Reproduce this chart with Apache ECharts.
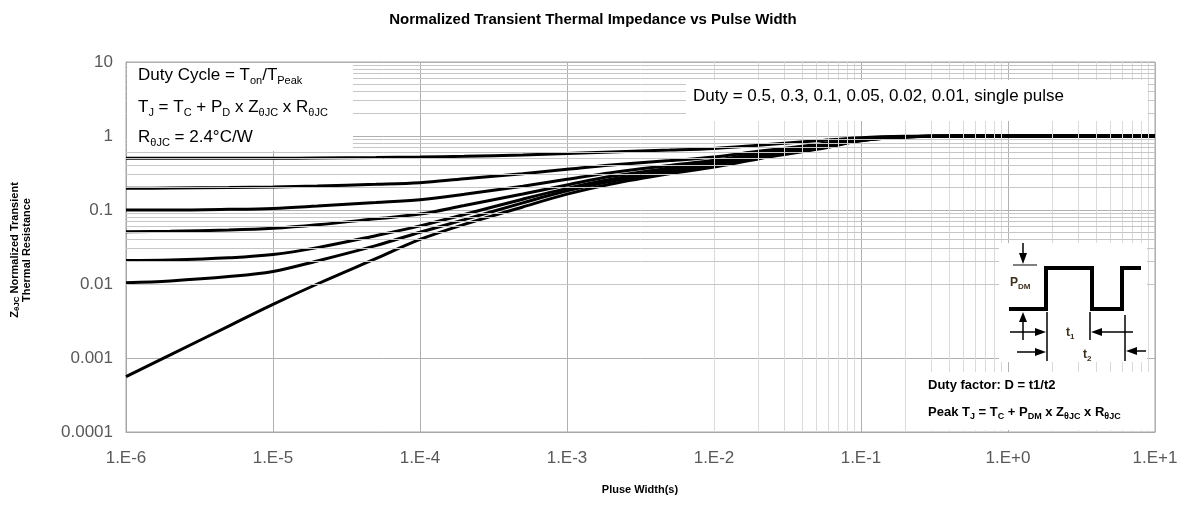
<!DOCTYPE html>
<html>
<head>
<meta charset="utf-8">
<title>Normalized Transient Thermal Impedance vs Pulse Width</title>
<script src="https://cdn.jsdelivr.net/npm/echarts@6/dist/echarts.min.js"></script>
<style>
  html, body { margin: 0; padding: 0; background: #fff; }
  #chart { width: 1186px; height: 508px; }
</style>
</head>
<body>
<div id="chart"></div>
<script>
const pulseWidth = [1e-6, 2e-6, 5e-6, 1e-5, 2e-5, 5e-5, 1e-4, 2e-4, 5e-4, 1e-3,
                    2e-3, 5e-3, 1e-2, 2e-2, 5e-2, 1e-1, 2e-1, 5e-1, 1, 10];

// normalized Zth for each duty cycle
const zD05    = [0.5,     0.5,    0.5,    0.5,    0.505,  0.512, 0.52,  0.532, 0.555, 0.58,
                 0.61,    0.645,  0.68,   0.75,   0.86,   0.95,  0.99,  1.0,   1.0,   1.0];
const zD03    = [0.196,   0.198,  0.201,  0.205,  0.211,  0.222, 0.234, 0.265, 0.31,  0.355,
                 0.405,   0.465,  0.52,   0.62,   0.77,   0.92,  0.98,  1.0,   1.0,   1.0];
const zD01    = [0.1,     0.1,    0.102,  0.105,  0.113,  0.126, 0.138, 0.163, 0.21,  0.26,
                 0.32,    0.4,    0.47,   0.58,   0.74,   0.9,   0.98,  1.0,   1.0,   1.0];
const zD005   = [0.051,   0.0515, 0.0535, 0.0565, 0.063,  0.076, 0.088, 0.115, 0.165, 0.218,
                 0.285,   0.37,   0.45,   0.56,   0.72,   0.89,  0.975, 1.0,   1.0,   1.0];
const zD002   = [0.0207,  0.0211, 0.0226, 0.025,  0.031,  0.045, 0.061, 0.087, 0.14,  0.196,
                 0.26,    0.345,  0.43,   0.54,   0.7,    0.88,  0.975, 1.0,   1.0,   1.0];
const zD001   = [0.0104,  0.011,  0.0126, 0.0148, 0.0205, 0.033, 0.05,  0.074, 0.125, 0.182,
                 0.245,   0.33,   0.41,   0.52,   0.68,   0.87,  0.97,  1.0,   1.0,   1.0];
const zSingle = [0.00056, 0.0011, 0.0027, 0.0053, 0.01,   0.022, 0.04,  0.064, 0.11,  0.164,
                 0.225,   0.31,   0.38,   0.49,   0.66,   0.86,  0.97,  1.0,   1.0,   1.0];

const curveNames = ['D=0.5', 'D=0.3', 'D=0.1', 'D=0.05', 'D=0.02', 'D=0.01', 'single pulse'];
const curves = [zD05, zD03, zD01, zD005, zD002, zD001, zSingle];

// tick labels
const xTickLabels = ['1.E-6', '1.E-5', '1.E-4', '1.E-3', '1.E-2', '1.E-1', '1.E+0', '1.E+1'];
const yTickLabels = ['0.0001', '0.001', '0.01', '0.1', '1', '10'];

const FONT = 'Liberation Sans, Arial, sans-serif';

// log minor grid (2..9 in every decade)
const minorX = [];
for (let e = -6; e <= 0; e++) for (let k = 2; k <= 9; k++) minorX.push(k * Math.pow(10, e));
const minorY = [];
for (let e = -4; e <= 0; e++) for (let k = 2; k <= 9; k++) minorY.push(k * Math.pow(10, e));

function gridLines(list, key, color) {
  return {
    type: 'line', data: [], z: 1, silent: true,
    markLine: {
      silent: true, symbol: ['none', 'none'], animation: false,
      label: { show: false },
      lineStyle: { color: color, width: 1, type: 'solid' },
      data: list.map(v => ({ [key]: v }))
    }
  };
}

let series = [
  gridLines(minorX, 'xAxis', '#dadada'),
  gridLines(minorY, 'yAxis', '#c6c6c6')
];
curves.forEach((c, i) => {
  series.push({
    name: curveNames[i],
    type: 'line',
    data: pulseWidth.map((x, j) => [x, c[j]]),
    showSymbol: false,
    smooth: 0.35,
    z: 3,
    lineStyle: { color: '#000', width: 3 }
  });
});

// rich text styles
const big = {
  n: { fontSize: 17, fontFamily: FONT, fill: '#000', lineHeight: 22, verticalAlign: 'middle' },
  s: { fontSize: 11, fontFamily: FONT, fill: '#000', lineHeight: 11, verticalAlign: 'bottom' }
};
const boldSm = {
  n: { fontSize: 13, fontFamily: FONT, fontWeight: 'bold', fill: '#000', lineHeight: 18, verticalAlign: 'middle' },
  s: { fontSize: 9, fontFamily: FONT, fontWeight: 'bold', fill: '#000', lineHeight: 9, verticalAlign: 'bottom' }
};
const diag = {
  n: { fontSize: 12, fontFamily: FONT, fontWeight: 'bold', fill: '#3b2e1c', lineHeight: 16, verticalAlign: 'middle' },
  s: { fontSize: 8, fontFamily: FONT, fontWeight: 'bold', fill: '#3b2e1c', lineHeight: 8, verticalAlign: 'bottom' }
};

function txt(x, y, text, rich, align) {
  return { type: 'text', x: x, y: y, z: 20,
    style: { text: text, rich: rich, align: align || 'left', verticalAlign: 'middle' } };
}
function ln(x1, y1, x2, y2, w) {
  return { type: 'line', z: 20, shape: { x1: x1, y1: y1, x2: x2, y2: y2 }, style: { stroke: '#000', lineWidth: w || 1.5 } };
}
function head(points) {
  return { type: 'polygon', z: 20, shape: { points: points }, style: { fill: '#000' } };
}

const graphic = [
  // formula box top-left
  { type: 'rect', z: 15, shape: { x: 127, y: 63, width: 226, height: 88 }, style: { fill: '#fff' } },
  txt(138, 75, '{n|Duty Cycle = T}{s|on}{n|/T}{s|Peak}', big),
  txt(138, 107, '{n|T}{s|J}{n| = T}{s|C}{n| + P}{s|D}{n| x Z}{s|θJC}{n| x R}{s|θJC}', big),
  txt(138, 137, '{n|R}{s|θJC}{n| = 2.4°C/W}', big),
  // duty list box
  { type: 'rect', z: 15, shape: { x: 686, y: 80, width: 462, height: 41 }, style: { fill: '#fff' } },
  txt(693, 96, '{n|Duty = 0.5, 0.3, 0.1, 0.05, 0.02, 0.01, single pulse}', big),
  // pulse diagram box
  { type: 'rect', z: 15, shape: { x: 999, y: 243, width: 148, height: 119 }, style: { fill: '#fff' } },
  { type: 'polyline', z: 20,
    shape: { points: [[1009, 309], [1046, 309], [1046, 268], [1092, 268], [1092, 309], [1122, 309], [1122, 268], [1141, 268]] },
    style: { stroke: '#000', lineWidth: 4, fill: null } },
  ln(1023, 243, 1023, 258), head([[1019, 253], [1027, 253], [1023, 264]]),
  ln(1013, 265, 1037, 265, 1),
  ln(1023, 318, 1023, 340), head([[1019, 322], [1027, 322], [1023, 312]]),
  ln(1010, 332, 1040, 332), head([[1035, 328], [1035, 336], [1046, 332]]),
  ln(1047, 312, 1047, 361),
  ln(1133, 332, 1097, 332), head([[1102, 328], [1102, 336], [1091, 332]]),
  ln(1090, 312, 1090, 340),
  ln(1017, 352, 1040, 352), head([[1035, 348], [1035, 356], [1046, 352]]),
  ln(1125, 315, 1125, 361),
  ln(1146, 351, 1132, 351), head([[1137, 347], [1137, 355], [1126, 351]]),
  txt(1010, 283, '{n|P}{s|DM}', diag),
  txt(1066, 333, '{n|t}{s|1}', diag),
  txt(1083, 355, '{n|t}{s|2}', diag),
  // duty factor box
  { type: 'rect', z: 15, shape: { x: 923, y: 372, width: 229, height: 58 }, style: { fill: '#fff' } },
  txt(928, 385, '{n|Duty factor: D = t1/t2}', boldSm),
  txt(928, 412, '{n|Peak T}{s|J}{n| = T}{s|C}{n| + P}{s|DM}{n| x Z}{s|θJC}{n| x R}{s|θJC}', boldSm),
  // axis names
  txt(640, 490, '{n|Pluse Width(s)}', {
    n: { fontSize: 11, fontFamily: FONT, fontWeight: 'bold', fill: '#000' } }, 'center'),
  { type: 'text', x: 21, y: 250, rotation: Math.PI / 2, z: 20,
    style: {
      text: '{n|Z}{s|θJC}{n| Normalized Transient}\n{n|Thermal Resistance}',
      align: 'center', verticalAlign: 'middle',
      rich: {
        n: { fontSize: 11, fontFamily: FONT, fontWeight: 'bold', fill: '#000', lineHeight: 12, verticalAlign: 'middle', align: 'center' },
        s: { fontSize: 8, fontFamily: FONT, fontWeight: 'bold', fill: '#000', lineHeight: 8, verticalAlign: 'bottom', align: 'center' }
      }
    } }
];

const option = {
  animation: false,
  backgroundColor: '#fff',
  title: {
    text: 'Normalized Transient Thermal Impedance vs Pulse Width',
    left: 'center', top: 7,
    textStyle: { fontSize: 15, fontWeight: 'bold', color: '#000', fontFamily: FONT }
  },
  grid: { left: 126, right: 31, top: 62, bottom: 76, show: true, borderColor: '#a6a6a6', borderWidth: 1 },
  xAxis: {
    type: 'log', logBase: 10, min: 1e-6, max: 10, interval: 1,
    axisLine: { lineStyle: { color: '#a6a6a6' } },
    axisTick: { show: false },
    splitLine: { show: true, lineStyle: { color: '#b0b0b0', width: 1 } },
    axisLabel: {
      color: '#595959', fontSize: 17, fontFamily: FONT, margin: 18,
      formatter: v => xTickLabels[Math.round(Math.log10(v)) + 6]
    }
  },
  yAxis: {
    type: 'log', logBase: 10, min: 1e-4, max: 10, interval: 1,
    axisLine: { show: true, lineStyle: { color: '#a6a6a6' } },
    axisTick: { show: false },
    splitLine: { show: true, lineStyle: { color: '#b0b0b0', width: 1 } },
    axisLabel: {
      color: '#595959', fontSize: 17, fontFamily: FONT, margin: 13,
      formatter: v => yTickLabels[Math.round(Math.log10(v)) + 4]
    }
  },
  series: series,
  graphic: graphic
};

const chart = echarts.init(document.getElementById('chart'));
chart.setOption(option);
</script>
</body>
</html>
